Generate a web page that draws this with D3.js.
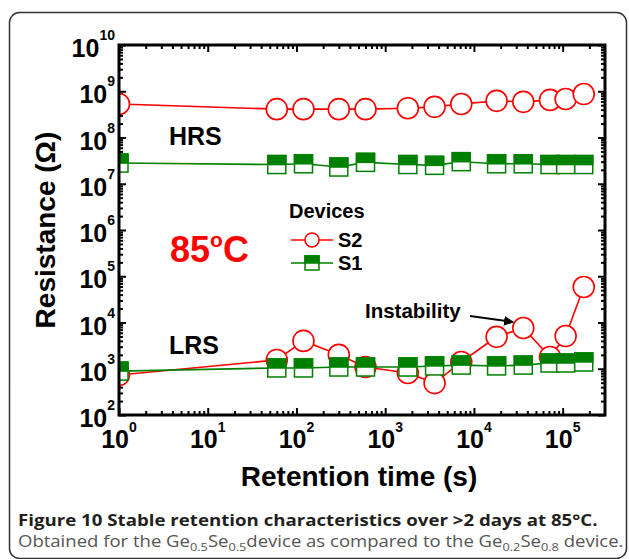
<!DOCTYPE html>
<html>
<head>
<meta charset="utf-8">
<script src="https://cdn.jsdelivr.net/npm/d3@7"></script>
<style>
	body { margin: 0; background: #fff; }
	svg { display: block; }
</style>
</head>
<body>
<div id="chart"></div>
<script>
	// retention times (s)
	var times = [1, 60, 120, 300, 600, 1800, 3600, 7200, 18000, 36000, 72000, 108000, 172800];
	// S2 device, circles
	var s2HRS = [5.3e8, 4.1e8, 4.1e8, 4.1e8, 4.1e8, 4.3e8, 4.6e8, 5.3e8, 6.2e8, 5.9e8, 6.5e8, 6.8e8, 8.7e8];
	var s2LRS = [730, 1550, 4000, 2000, 1090, 810, 490, 1400, 4900, 7600, 1800, 5100, 58600];
	// S1 device, half filled squares
	var s1HRS = [2.8e7, 2.6e7, 2.7e7, 2.3e7, 2.9e7, 2.6e7, 2.5e7, 3.0e7, 2.7e7, 2.7e7, 2.6e7, 2.6e7, 2.6e7];
	var s1LRS = [890, 1040, 1040, 1090, 1090, 1090, 1150, 1200, 1150, 1200, 1330, 1330, 1400];

	var xMajor = [1, 10, 100, 1e3, 1e4, 1e5];
	var yMajor = [1e2, 1e3, 1e4, 1e5, 1e6, 1e7, 1e8, 1e9, 1e10];
	var xExp = ['0', '1', '2', '3', '4', '5'];
	var yExp = ['2', '3', '4', '5', '6', '7', '8', '9', '10'];

	var W = 629, H = 559;
	var margin = {top: 45, left: 119},
		width = 605 - 119,
		height = 415 - 45;
	var red = '#ff0000', green = '#008000';
	var font = '"Liberation Sans", Arial, sans-serif';

	var svg = d3.select('#chart').append('svg')
		.attr('width', W)
		.attr('height', H)
		.style('font-family', font);

	svg.append('rect').attr('width', W).attr('height', H).attr('fill', '#fff');
	// figure frame
	svg.append('rect')
		.attr('x', 9.5).attr('y', 12.5)
		.attr('width', 617).attr('height', 546)
		.attr('rx', 10)
		.attr('fill', 'none')
		.attr('stroke', '#333')
		.attr('stroke-width', 1.5);

	var g = svg.append('g')
		.attr('transform', 'translate(' + margin.left + ',' + margin.top + ')');

	var x = d3.scaleLog().domain([1, 3e5]).range([0, width]);
	var y = d3.scaleLog().domain([1e2, 1e10]).range([height, 0]);

	function minors(lo, hi, max) {
		var out = [];
		for (var d = lo; d <= hi; d++) {
			for (var k = 2; k <= 9; k++) {
				var v = k * Math.pow(10, d);
				if (v < max) { out.push(v); }
			}
		}
		return out;
	}
	var xMinor = minors(0, 5, 3e5);
	var yMinor = minors(2, 9, 1e10);

	function styleAxis(sel) {
		sel.select('.domain').remove();
		sel.selectAll('line').attr('stroke', '#000').attr('stroke-width', 2);
	}

	// ticks on all four sides, pointing in
	g.append('g').attr('transform', 'translate(0,' + height + ')')
		.call(d3.axisBottom(x).tickValues(xMajor).tickSize(-7).tickFormat('')).call(styleAxis);
	g.append('g').attr('transform', 'translate(0,' + height + ')')
		.call(d3.axisBottom(x).tickValues(xMinor).tickSize(-4).tickFormat('')).call(styleAxis);
	g.append('g')
		.call(d3.axisTop(x).tickValues(xMajor).tickSize(-7).tickFormat('')).call(styleAxis);
	g.append('g')
		.call(d3.axisTop(x).tickValues(xMinor).tickSize(-4).tickFormat('')).call(styleAxis);
	g.append('g')
		.call(d3.axisLeft(y).tickValues(yMajor).tickSize(-7).tickFormat('')).call(styleAxis);
	g.append('g')
		.call(d3.axisLeft(y).tickValues(yMinor).tickSize(-4).tickFormat('')).call(styleAxis);
	g.append('g').attr('transform', 'translate(' + width + ',0)')
		.call(d3.axisRight(y).tickValues(yMajor).tickSize(-7).tickFormat('')).call(styleAxis);
	g.append('g').attr('transform', 'translate(' + width + ',0)')
		.call(d3.axisRight(y).tickValues(yMinor).tickSize(-4).tickFormat('')).call(styleAxis);

	// tick labels 10^n
	xMajor.forEach(function (v, i) {
		var t = g.append('text')
			.attr('x', x(v))
			.attr('y', height + 33)
			.attr('text-anchor', 'middle')
			.attr('font-weight', 'bold')
			.attr('font-size', 25);
		t.append('tspan').text('10');
		t.append('tspan').attr('dy', -16).attr('font-size', 14).text(xExp[i]);
	});
	yMajor.forEach(function (v, i) {
		var t = g.append('text')
			.attr('x', -4)
			.attr('y', y(v) + 12)
			.attr('text-anchor', 'end')
			.attr('font-weight', 'bold')
			.attr('font-size', 25);
		t.append('tspan').text('10');
		t.append('tspan').attr('dy', -17).attr('font-size', 14).text(yExp[i]);
	});

	// clip markers to the plot box
	g.append('clipPath').attr('id', 'plotclip')
		.append('rect').attr('width', width).attr('height', height);
	var plot = g.append('g').attr('clip-path', 'url(#plotclip)');

	var line = d3.line()
		.x(function (d) { return x(d.t); })
		.y(function (d) { return y(d.r); });

	function pairs(vals) {
		return times.map(function (t, i) { return {t: t, r: vals[i]}; });
	}

	function circleSeries(vals) {
		var data = pairs(vals);
		plot.append('path')
			.datum(data)
			.attr('fill', 'none')
			.attr('stroke', red)
			.attr('stroke-width', 1.6)
			.attr('d', line);
		plot.append('g').selectAll('circle')
			.data(data)
			.enter().append('circle')
			.attr('cx', function (d) { return x(d.t); })
			.attr('cy', function (d) { return y(d.r); })
			.attr('r', 10.5)
			.attr('fill', '#fff')
			.attr('stroke', red)
			.attr('stroke-width', 1.6);
	}

	function halfSquare(sel, s) {
		sel.append('rect')
			.attr('x', -s / 2).attr('y', -s / 2)
			.attr('width', s).attr('height', s)
			.attr('fill', '#fff')
			.attr('stroke', green)
			.attr('stroke-width', 1.5);
		sel.append('rect')
			.attr('x', -s / 2).attr('y', -s / 2)
			.attr('width', s).attr('height', s / 2)
			.attr('fill', green)
			.attr('stroke', green)
			.attr('stroke-width', 1.5);
	}

	function squareSeries(vals) {
		var data = pairs(vals);
		plot.append('path')
			.datum(data)
			.attr('fill', 'none')
			.attr('stroke', green)
			.attr('stroke-width', 1.6)
			.attr('d', line);
		plot.append('g').selectAll('g')
			.data(data)
			.enter().append('g')
			.attr('transform', function (d) {
				return 'translate(' + x(d.t) + ',' + y(d.r) + ')';
			})
			.each(function () { halfSquare(d3.select(this), 18); });
	}

	circleSeries(s2HRS);
	circleSeries(s2LRS);
	squareSeries(s1HRS);
	squareSeries(s1LRS);

	// plot box
	g.append('rect')
		.attr('width', width).attr('height', height)
		.attr('fill', 'none')
		.attr('stroke', '#000')
		.attr('stroke-width', 3);

	// labels inside the plot
	svg.append('text').attr('x', 169).attr('y', 145)
		.attr('font-weight', 'bold').attr('font-size', 25).text('HRS');
	svg.append('text').attr('x', 169).attr('y', 354)
		.attr('font-weight', 'bold').attr('font-size', 25).text('LRS');

	var temp = svg.append('text').attr('x', 170).attr('y', 262)
		.attr('font-weight', 'bold').attr('font-size', 36).attr('fill', red);
	temp.append('tspan').text('85');
	temp.append('tspan').attr('dy', -15).attr('font-size', 21).text('o');
	temp.append('tspan').attr('dy', 15).text('C');

	// legend
	svg.append('text').attr('x', 289).attr('y', 218)
		.attr('font-weight', 'bold').attr('font-size', 20).text('Devices');
	svg.append('line').attr('x1', 291).attr('x2', 333).attr('y1', 240).attr('y2', 240)
		.attr('stroke', red).attr('stroke-width', 1.6);
	svg.append('circle').attr('cx', 312).attr('cy', 240).attr('r', 7)
		.attr('fill', '#fff').attr('stroke', red).attr('stroke-width', 1.6);
	svg.append('text').attr('x', 338).attr('y', 247)
		.attr('font-weight', 'bold').attr('font-size', 20).text('S2');
	svg.append('line').attr('x1', 291).attr('x2', 333).attr('y1', 263).attr('y2', 263)
		.attr('stroke', green).attr('stroke-width', 1.6);
	halfSquare(svg.append('g').attr('transform', 'translate(312,263)'), 14);
	svg.append('text').attr('x', 338).attr('y', 270)
		.attr('font-weight', 'bold').attr('font-size', 20).text('S1');

	// instability note
	svg.append('defs').append('marker')
		.attr('id', 'arrow')
		.attr('viewBox', '0 0 10 10')
		.attr('refX', 9).attr('refY', 5)
		.attr('markerWidth', 5).attr('markerHeight', 5)
		.attr('orient', 'auto')
		.append('path').attr('d', 'M0,0L10,5L0,10z').attr('fill', '#000');
	svg.append('text').attr('x', 365).attr('y', 318)
		.attr('font-weight', 'bold').attr('font-size', 20.5).text('Instability');
	svg.append('line').attr('x1', 470).attr('y1', 316).attr('x2', 513).attr('y2', 322)
		.attr('stroke', '#000').attr('stroke-width', 2)
		.attr('marker-end', 'url(#arrow)');

	// axis titles
	svg.append('text').attr('x', 359).attr('y', 486)
		.attr('text-anchor', 'middle')
		.attr('font-weight', 'bold').attr('font-size', 28)
		.text('Retention time (s)');
	svg.append('text')
		.attr('transform', 'translate(55,230) rotate(-90)')
		.attr('text-anchor', 'middle')
		.attr('font-weight', 'bold').attr('font-size', 28)
		.text('Resistance (\u03A9)');

	// caption
	function fitWidth(t, x0, y0, target) {
		var len = t.node().getComputedTextLength();
		t.attr('x', 0).attr('y', 0)
			.attr('transform', 'translate(' + x0 + ',' + y0 + ') scale(' + (target / len) + ',1)');
	}
	var cap1 = svg.append('text')
		.attr('font-family', '"Open Sans", "Noto Sans", sans-serif')
		.attr('font-size', 16).attr('font-weight', 'bold')
		.attr('fill', '#231f20')
		.text('Figure 10 Stable retention characteristics over >2 days at 85\u00B0C.');
	fitWidth(cap1, 18, 526, 580);

	var cap2 = svg.append('text')
		.attr('font-family', '"Open Sans", "Noto Sans", sans-serif')
		.attr('font-size', 16)
		.attr('fill', '#555');
	var parts = [['Obtained for the Ge', 0], ['0.5', 1], ['Se', -1], ['0.5', 1], ['device as compared to the Ge', -1],
		['0.2', 1], ['Se', -1], ['0.8', 1], [' device.', -1]];
	parts.forEach(function (p) {
		var ts = cap2.append('tspan').text(p[0]);
		if (p[1] === 1) { ts.attr('dy', 4).attr('font-size', 11); }
		if (p[1] === -1) { ts.attr('dy', -4); }
	});
	parts[0][1] = 0;
	fitWidth(cap2, 18, 547, 606);
</script>
</body>
</html>
